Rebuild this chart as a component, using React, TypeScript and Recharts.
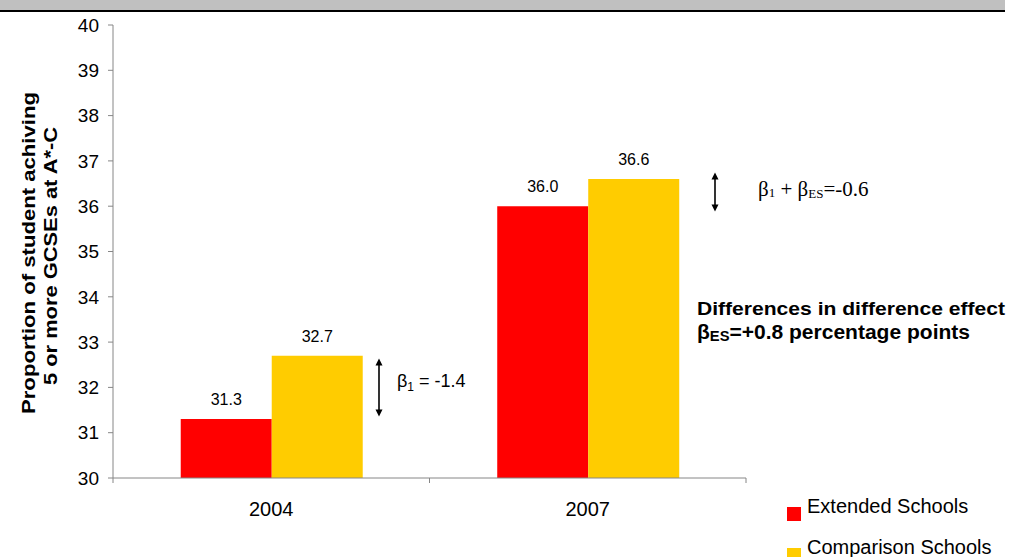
import { BarChart, Bar, XAxis, YAxis, LabelList, Legend } from "recharts";

const years = ["2004", "2007"];
const extendedSchools = [31.3, 36.0];
const comparisonSchools = [32.7, 36.6];
const seriesNames = ["Extended Schools", "Comparison Schools"];
const yTicks = [30, 31, 32, 33, 34, 35, 36, 37, 38, 39, 40];

const Y_MIN = 30;
const Y_MAX = 40;

const data = years.map((year, i) => ({
    year,
    extended: extendedSchools[i],
    comparison: comparisonSchools[i],
}));

const W = 1010;
const H = 557;
const MARGIN = { top: 25, right: 264, bottom: 49, left: 63 };
const Y_AXIS_W = 50;
const X_AXIS_H = 30;
const PLOT = {
    left: MARGIN.left + Y_AXIS_W,
    right: W - MARGIN.right,
    top: MARGIN.top,
    bottom: H - MARGIN.bottom - X_AXIS_H,
};

const SANS = "'Liberation Sans', Arial, sans-serif";
const SERIF = "'Liberation Serif', 'Times New Roman', serif";
const AXIS_GRAY = "#868686";
const X_TICK_GAP = 24;

// value -> pixel on the y axis, same linear mapping the chart uses
const yPix = (v: number) => PLOT.top + ((Y_MAX - v) / (Y_MAX - Y_MIN)) * (PLOT.bottom - PLOT.top);

// category label with tick marks on the band edges
const YearTick = (props: any) => {
    const { x, y, payload, index } = props;
    const half = payload?.offset ?? (PLOT.right - PLOT.left) / years.length / 2;
    const top = y - X_TICK_GAP;
    return (
        <g>
            <line x1={x - half} x2={x - half} y1={top} y2={top + 5} stroke={AXIS_GRAY} />
            {index === years.length - 1 && (
                <line x1={x + half} x2={x + half} y1={top} y2={top + 5} stroke={AXIS_GRAY} />
            )}
            <text x={x} y={y} dy="0.71em" textAnchor="middle" fontSize={20} fontFamily={SANS} fill="#000">
                {payload.value}
            </text>
        </g>
    );
};

const renderLegend = (props: any) => {
    const items = [...(props.payload ?? [])].sort(
        (a: any, b: any) => seriesNames.indexOf(a.value) - seriesNames.indexOf(b.value)
    );
    return (
        <svg width={223} height={80} style={{ display: "block" }}>
            {items.map((item: any, i: number) => (
                <g key={item.value} transform={`translate(0, ${i * 41})`}>
                    <rect x={0} y={14} width={14} height={14} fill={item.color} />
                    <text x={20} y={20} fontSize={20} fontFamily={SANS} fill="#000">
                        {item.value}
                    </text>
                </g>
            ))}
        </svg>
    );
};

function Arrow({ x, y1, y2 }: { x: number; y1: number; y2: number }) {
    return (
        <g>
            <line x1={x} x2={x} y1={y1 + 6} y2={y2 - 6} stroke="#000" strokeWidth={1.6} />
            <path d={`M${x - 3.5},${y1 + 7} L${x},${y1} L${x + 3.5},${y1 + 7} Z`} fill="#000" />
            <path d={`M${x - 3.5},${y2 - 7} L${x},${y2} L${x + 3.5},${y2 - 7} Z`} fill="#000" />
        </g>
    );
}

function Annotations() {
    const mid04 = (yPix(extendedSchools[0]) + yPix(comparisonSchools[0])) / 2;
    const mid07 = (yPix(extendedSchools[1]) + yPix(comparisonSchools[1])) / 2;
    return (
        <svg width={W} height={H} style={{ position: "absolute", left: 0, top: 0, pointerEvents: "none" }}>
            {/* axis title */}
            <g fontFamily={SANS} fontWeight="bold" fontSize={19} fill="#000" textAnchor="middle">
                <text transform="translate(35, 253) rotate(-90)" textLength={322} lengthAdjust="spacingAndGlyphs">
                    Proportion of student achiving
                </text>
                <text transform="translate(57, 256) rotate(-90)" textLength={258} lengthAdjust="spacingAndGlyphs">
                    5 or more GCSEs at A*-C
                </text>
            </g>

            <Arrow x={379} y1={mid04 - 29} y2={mid04 + 29} />
            <text x={397} y={387} fontFamily={SANS} fontSize={18} fill="#000">
                β<tspan fontSize={12} dy={4}>1</tspan>
                <tspan dy={-4}> = -1.4</tspan>
            </text>

            <Arrow x={715} y1={mid07 - 20} y2={mid07 + 19} />
            <text x={758} y={196} fontFamily={SERIF} fontSize={21} fill="#000">
                β<tspan fontSize={13} dy={1}>1</tspan>
                <tspan dy={-1}> + β</tspan>
                <tspan fontSize={13} dy={2}>ES</tspan>
                <tspan dy={-2}>=-0.6</tspan>
            </text>

            <g fontFamily={SANS} fontWeight="bold" fontSize={19} fill="#000">
                <text x={697} y={315} textLength={308} lengthAdjust="spacingAndGlyphs">
                    Differences in difference effect
                </text>
                <text x={697} y={339} fontSize={20} textLength={273} lengthAdjust="spacingAndGlyphs">
                    β<tspan fontSize={14} dy={2}>ES</tspan>
                    <tspan dy={-2}>=+0.8 percentage points</tspan>
                </text>
            </g>
        </svg>
    );
}

export default function App() {
    return (
        <div style={{ position: "absolute", left: 0, top: 0, width: W, height: H, overflow: "hidden", background: "#fff" }}>
            <div style={{ position: "absolute", left: 0, top: 0, width: 1005, height: 10, background: "#C0C0C0" }} />
            <div style={{ position: "absolute", left: 0, top: 10, width: 1005, height: 2, background: "#000" }} />

            <BarChart
                width={W}
                height={H}
                data={data}
                margin={MARGIN}
                barCategoryGap="21.4%"
                barGap={0}
                style={{ fontFamily: SANS }}
            >
                <XAxis
                    dataKey="year"
                    height={X_AXIS_H}
                    axisLine={{ stroke: AXIS_GRAY }}
                    tickLine={false}
                    tickSize={0}
                    tickMargin={X_TICK_GAP}
                    tick={<YearTick />}
                    interval={0}
                />
                <YAxis
                    width={Y_AXIS_W}
                    domain={[Y_MIN, Y_MAX]}
                    ticks={yTicks}
                    allowDataOverflow
                    axisLine={{ stroke: AXIS_GRAY }}
                    tickLine={{ stroke: AXIS_GRAY }}
                    tickSize={5}
                    tickMargin={9}
                    tick={{ fill: "#000", fontSize: 19, fontFamily: SANS }}
                />
                <Legend
                    layout="vertical"
                    align="center"
                    verticalAlign="middle"
                    content={renderLegend}
                    wrapperStyle={{ left: 787, top: 493, width: 223, height: 80 }}
                />
                <Bar dataKey="extended" name={seriesNames[0]} fill="#FF0000" isAnimationActive={false}>
                    <LabelList
                        dataKey="extended"
                        position="top"
                        offset={14}
                        formatter={(v: any) => Number(v).toFixed(1)}
                        style={{ fill: "#000", fontSize: 16, fontFamily: SANS }}
                    />
                </Bar>
                <Bar dataKey="comparison" name={seriesNames[1]} fill="#FFCC00" isAnimationActive={false}>
                    <LabelList
                        dataKey="comparison"
                        position="top"
                        offset={14}
                        formatter={(v: any) => Number(v).toFixed(1)}
                        style={{ fill: "#000", fontSize: 16, fontFamily: SANS }}
                    />
                </Bar>
            </BarChart>

            <Annotations />
        </div>
    );
}
